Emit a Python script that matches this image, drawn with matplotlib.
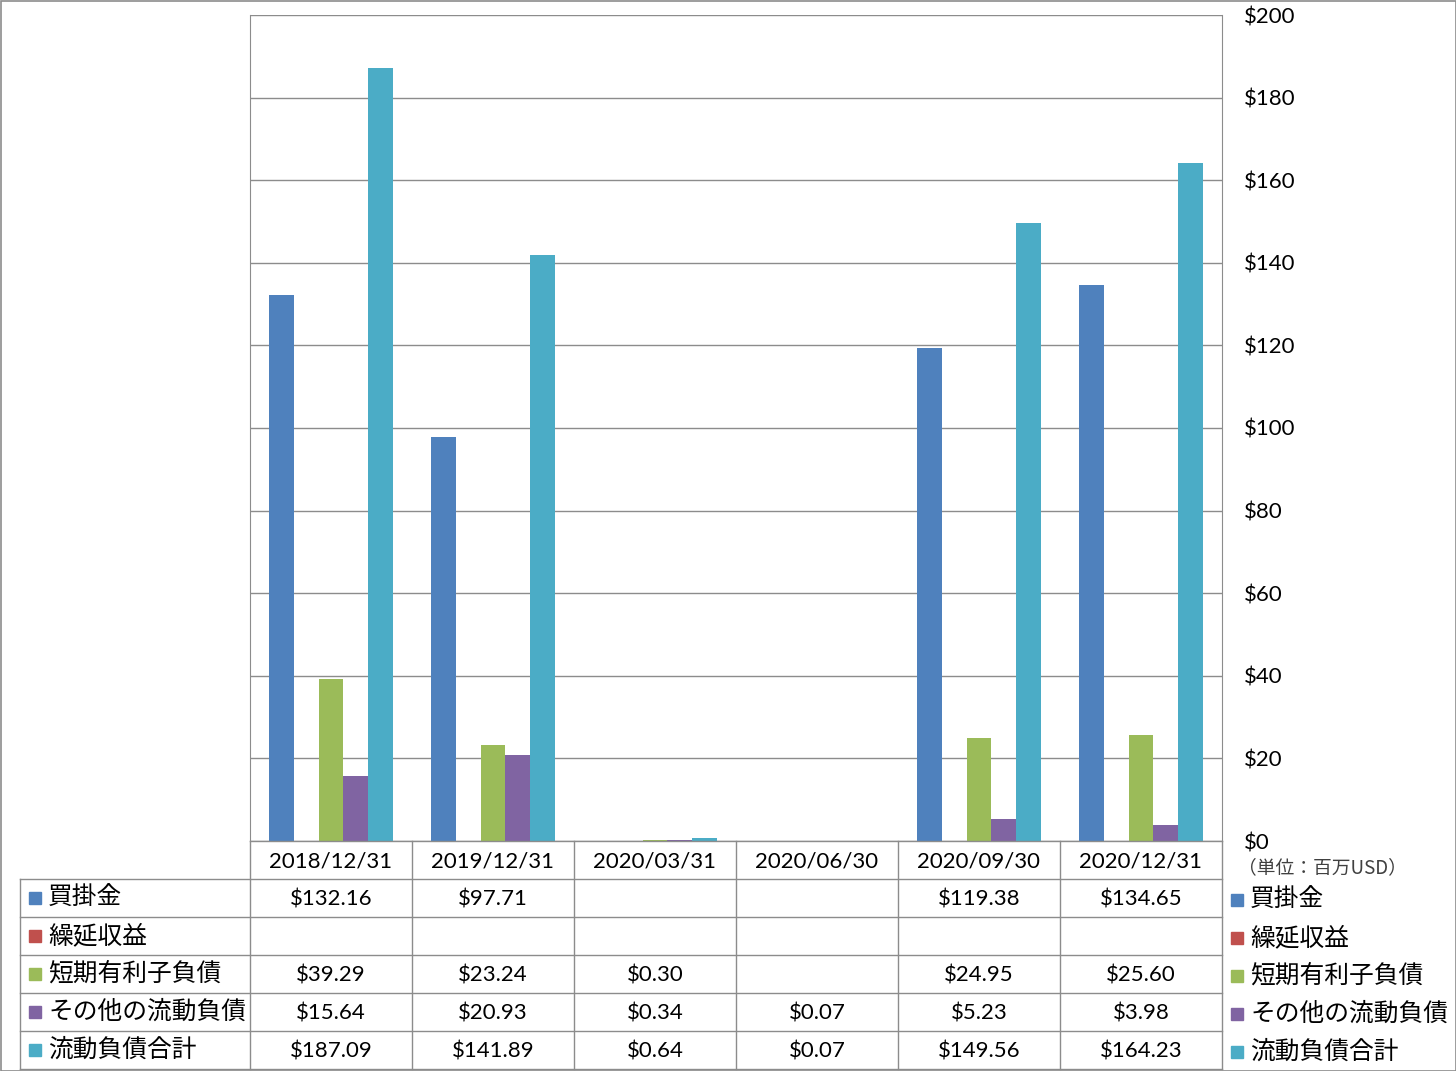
import numpy as np
import matplotlib.pyplot as plt
from matplotlib.patches import Rectangle

# データ
dates = ['2018/12/31', '2019/12/31', '2020/03/31', '2020/06/30', '2020/09/30', '2020/12/31']
series_names = ['買掛金', '繰延収益', '短期有利子負債', 'その他の流動負債', '流動負債合計']
kaikake = [132.16, 97.71, None, None, 119.38, 134.65]
kurinobe = [None, None, None, None, None, None]
tanki = [39.29, 23.24, 0.30, None, 24.95, 25.60]
sonota = [15.64, 20.93, 0.34, 0.07, 5.23, 3.98]
goukei = [187.09, 141.89, 0.64, 0.07, 149.56, 164.23]
series_values = [kaikake, kurinobe, tanki, sonota, goukei]
colors = ['#4F81BD', '#C0504D', '#9BBB59', '#8064A2', '#4BACC6']
y_ticks = list(range(0, 201, 20))
unit_label = '（単位：百万USD）'

JP = ['Noto Sans CJK JP', 'DejaVu Sans']
NUM = ['Lato', 'DejaVu Sans']
grid_color = '#8C8C8C'

W, H = 1456, 1071
fig = plt.figure(figsize=(W / 100, H / 100), dpi=100)

# 棒グラフ
left, right, top, bottom = 250, 1222, 15, 841
ax = fig.add_axes([left / W, 1 - bottom / H, (right - left) / W, (bottom - top) / H])
x = np.arange(len(dates))
width = 0.154
for i, (vals, c) in enumerate(zip(series_values, colors)):
    v = np.array([np.nan if a is None else a for a in vals], dtype=float)
    ax.bar(x + (i - 2) * width, v, width, color=c, zorder=3)

ax.set_xlim(-0.5, len(dates) - 0.5)
ax.set_ylim(0, 200)
ax.set_yticks(y_ticks)
ax.set_yticklabels([f'${t}' for t in y_ticks], family=NUM, fontsize=16)
ax.yaxis.tick_right()
ax.tick_params(axis='y', length=0, pad=16)
ax.set_xticks([])
ax.yaxis.grid(True, color=grid_color, lw=1)
ax.set_axisbelow(True)
for s in ['top', 'bottom']:
    ax.spines[s].set_visible(False)
for s in ['left', 'right']:
    ax.spines[s].set_color(grid_color)

# データテーブル（ピクセル座標のオーバーレイ）
ov = fig.add_axes([0, 0, 1, 1], zorder=5)
ov.set_xlim(0, W)
ov.set_ylim(H, 0)
ov.axis('off')

col_w = (right - left) / len(dates)
row_h = 38
header_top = bottom
rows_top = bottom + row_h
table_left = 20
n_rows = len(series_names)
table_bottom = rows_top + n_rows * row_h

lk = dict(color=grid_color, lw=1)
ov.plot([left, right], [header_top, header_top], **lk)
for r in range(n_rows + 1):
    yy = rows_top + r * row_h
    ov.plot([table_left, right], [yy, yy], **lk)
ov.plot([table_left, table_left], [rows_top, table_bottom], **lk)
for c in range(len(dates) + 1):
    xx = left + c * col_w
    ov.plot([xx, xx], [header_top, table_bottom], **lk)

for c, d in enumerate(dates):
    ov.text(left + (c + 0.5) * col_w, header_top + row_h / 2 + 2, d,
            ha='center', va='center', family=NUM, fontsize=16)

for r, (name, vals, colr) in enumerate(zip(series_names, series_values, colors)):
    yc = rows_top + (r + 0.5) * row_h
    # 左側の凡例
    ov.add_patch(Rectangle((29, yc - 6), 12, 12, color=colr))
    ov.text(48, yc, name, ha='left', va='center', family=JP, fontsize=17.8)
    # 右側の凡例
    ov.add_patch(Rectangle((1231, yc - 4), 12, 12, color=colr))
    ov.text(1250, yc + 2, name, ha='left', va='center', family=JP, fontsize=17.8)
    for c, v in enumerate(vals):
        if v is not None:
            ov.text(left + (c + 0.5) * col_w, yc + 2, f'${v:.2f}',
                    ha='center', va='center', family=NUM, fontsize=16)

ov.text(1238, 868, unit_label, ha='left', va='center', family=JP,
        fontsize=13.5, color='#404040')

# 外枠
ov.add_patch(Rectangle((0.5, 0.5), W - 1, H - 1, fill=False, ec=grid_color, lw=1.2))

fig.savefig('out.png', dpi=100)
